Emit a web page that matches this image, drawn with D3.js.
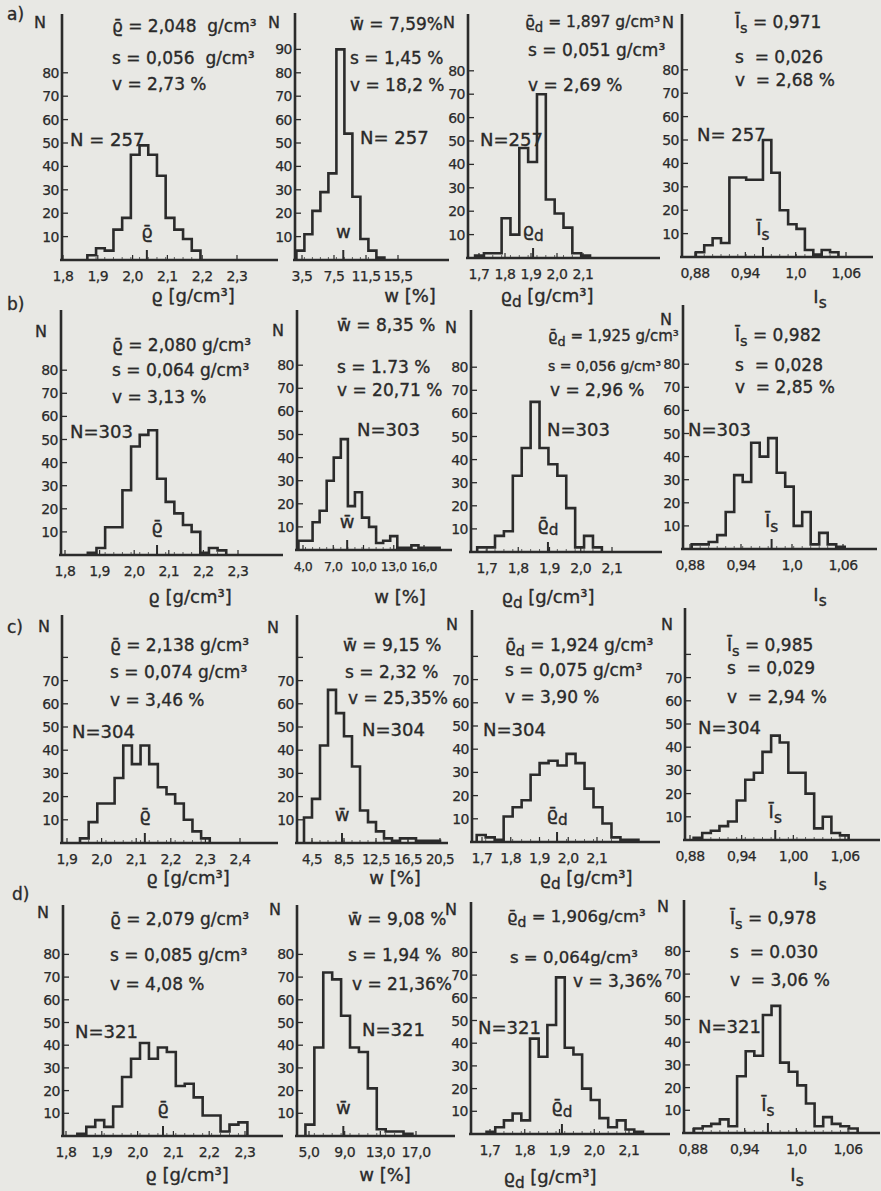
<!DOCTYPE html>
<html>
<head>
<meta charset="utf-8">
<script src="https://cdn.jsdelivr.net/npm/d3@7"></script>
<style>
  body { margin: 0; background: #e8e8e4; }
  svg text {
    font-family: "DejaVu Sans", sans-serif;
    fill: #2a2a2a;
    stroke: #2a2a2a;
    stroke-width: 0.35px;
    white-space: pre;
  }
  svg text.tick { letter-spacing: -0.5px; stroke-width: 0.25px; }
</style>
</head>
<body>
<svg id="chart" width="881" height="1191"></svg>
<script>
// ---- data (panels a1..d4, left to right, top to bottom) ----
const rowLabels = ["a)", "b)", "c)", "d)"];

const xTickValues = [
  [1.8, 1.9, 2.0, 2.1, 2.2, 2.3], [3.5, 7.5, 11.5, 15.5], [1.7, 1.8, 1.9, 2.0, 2.1], [0.88, 0.94, 1.0, 1.06],
  [1.8, 1.9, 2.0, 2.1, 2.2, 2.3], [4, 7, 10, 13, 16], [1.7, 1.8, 1.9, 2.0, 2.1], [0.88, 0.94, 1.0, 1.06],
  [1.9, 2.0, 2.1, 2.2, 2.3, 2.4], [4.5, 8.5, 12.5, 16.5, 20.5], [1.7, 1.8, 1.9, 2.0, 2.1], [0.88, 0.94, 1.0, 1.06],
  [1.8, 1.9, 2.0, 2.1, 2.2, 2.3], [5, 9, 13, 17], [1.7, 1.8, 1.9, 2.0, 2.1], [0.88, 0.94, 1.0, 1.06]
];
const xTickLabels = [
  ["1,8", "1,9", "2,0", "2,1", "2,2", "2,3"], ["3,5", "7,5", "11,5", "15,5"], ["1,7", "1,8", "1,9", "2,0", "2,1"], ["0,88", "0,94", "1,0", "1,06"],
  ["1,8", "1,9", "2,0", "2,1", "2,2", "2,3"], ["4,0", "7,0", "10,0", "13,0", "16,0"], ["1,7", "1,8", "1,9", "2,0", "2,1"], ["0,88", "0,94", "1,0", "1,06"],
  ["1,9", "2,0", "2,1", "2,2", "2,3", "2,4"], ["4,5", "8,5", "12,5", "16,5", "20,5"], ["1,7", "1,8", "1,9", "2,0", "2,1"], ["0,88", "0,94", "1,00", "1,06"],
  ["1,8", "1,9", "2,0", "2,1", "2,2", "2,3"], ["5,0", "9,0", "13,0", "17,0"], ["1,7", "1,8", "1,9", "2,0", "2,1"], ["0,88", "0,94", "1,0", "1,06"]
];

const yTicksFull = [10, 20, 30, 40, 50, 60, 70, 80];
const yTicksA2 = [10, 20, 30, 40, 50, 60, 70, 80, 90];
const yLabelMax = [80, 90, 80, 80, 80, 80, 80, 80, 70, 70, 70, 70, 80, 80, 80, 80];

const binStart = [1.87, 2.8, 1.685, 0.881, 1.866, 3.55, 1.6686, 0.882,
                  1.9376, 3.5, 1.6816, 0.8842, 1.8317, 4.6, 1.6901, 0.8812];
const binWidth = [0.025, 1.0, 0.034, 0.01, 0.025, 0.7, 0.0285, 0.01,
                  0.025, 1.0, 0.03125, 0.01, 0.025, 1.0, 0.025, 0.01];
const counts = [
  [2, 5, 4, 13, 18, 45, 49, 45, 36, 18, 13, 9, 4],
  [4, 11, 21, 29, 37, 90, 54, 27, 9, 4, 1],
  [1, 2, 2, 17, 10, 47, 41, 70, 25, 19, 13, 2, 1],
  [2, 5, 8, 6, 34, 34, 33, 33, 50, 36, 20, 14, 12, 3, 1, 3, 2],
  [1, 3, 12, 12, 28, 47, 52, 54, 33, 23, 18, 13, 10, 1, 3, 2],
  [4, 4, 12, 17, 30, 40, 48, 19, 25, 14, 10, 3, 4, 6, 1, 1, 2, 1, 1, 1],
  [2, 2, 7, 9, 33, 45, 65, 45, 38, 33, 19, 2, 7, 2],
  [2, 2, 3, 6, 16, 32, 29, 46, 40, 48, 33, 27, 10, 16, 2, 7, 2, 1],
  [2, 9, 17, 17, 28, 42, 34, 42, 34, 24, 21, 17, 10, 5, 2],
  [11, 19, 42, 66, 56, 46, 33, 14, 9, 5, 2, 1, 2, 2, 1, 1, 1],
  [3, 2, 1, 11, 15, 18, 29, 34, 35, 33, 38, 34, 23, 15, 8, 2, 1, 1],
  [1, 3, 4, 6, 8, 17, 26, 29, 38, 45, 42, 29, 29, 20, 5, 10, 3, 2],
  [1, 4, 7, 4, 13, 26, 34, 41, 34, 39, 37, 22, 23, 17, 9, 9, 2, 5, 6],
  [5, 39, 72, 69, 53, 39, 37, 21, 3, 2, 2, 1],
  [1, 3, 6, 9, 6, 42, 34, 48, 69, 38, 35, 20, 15, 7, 3, 6, 2, 1],
  [2, 3, 4, 6, 3, 25, 36, 34, 52, 56, 31, 27, 21, 13, 3, 7, 4, 3, 2]
];

// where the mean is marked on each x axis
const meanMark = [2.041, 8.66, 1.908, 0.961, 2.066, 8.38, 1.895, 0.976,
                  2.125, 8.25, 1.961, 0.979, 2.071, 8.85, 1.907, 0.967];

const RHO = "\u03F1", BAR = "\u0304";
const meanLabels = [RHO + BAR, "w", RHO + "_d", "\u012A_s",
                    RHO + BAR, "w" + BAR, RHO + BAR + "_d", "\u012A_s",
                    RHO + BAR, "w" + BAR, RHO + BAR + "_d", "\u012A_s",
                    RHO + BAR, "w" + BAR, RHO + BAR + "_d", "\u012A_s"];

const statTexts = [
  [RHO + BAR + " = 2,048  g/cm³", "s = 0,056  g/cm³", "v = 2,73 %"],
  ["w" + BAR + " = 7,59%", "s = 1,45 %", "v = 18,2 %"],
  [RHO + BAR + "_d = 1,897 g/cm³", "s = 0,051 g/cm³", "v = 2,69 %"],
  ["\u012A_s = 0,971", "s  = 0,026", "v  = 2,68 %"],
  [RHO + BAR + " = 2,080 g/cm³", "s = 0,064 g/cm³", "v = 3,13 %"],
  ["w" + BAR + " = 8,35 %", "s = 1.73 %", "v = 20,71 %"],
  [RHO + BAR + "_d = 1,925 g/cm³", "s = 0,056 g/cm³", "v = 2,96 %"],
  ["\u012A_s = 0,982", "s  = 0,028", "v  = 2,85 %"],
  [RHO + BAR + " = 2,138 g/cm³", "s = 0,074 g/cm³", "v = 3,46 %"],
  ["w" + BAR + " = 9,15 %", "s = 2,32 %", "v = 25,35%"],
  [RHO + BAR + "_d = 1,924 g/cm³", "s = 0,075 g/cm³", "v = 3,90 %"],
  ["\u012A_s = 0,985", "s  = 0,029", "v  = 2,94 %"],
  [RHO + BAR + " = 2,079 g/cm³", "s = 0,085 g/cm³", "v = 4,08 %"],
  ["w" + BAR + " = 9,08 %", "s = 1,94 %", "v = 21,36%"],
  [RHO + BAR + "_d = 1,906g/cm³", "s = 0,064g/cm³", "v = 3,36%"],
  ["\u012A_s = 0,978", "s  = 0.030", "v  = 3,06 %"]
];

const sampleSize = [257, 257, 257, 257, 303, 303, 303, 303, 304, 304, 304, 304, 321, 321, 321, 321];
const sampleSep = [" = ", "= ", "=", "= ", "=", "=", "=", "=", "=", "=", "=", "=", "=", "=", "=", "="];

const axisTitles = [RHO + " [g/cm³]", "w [%]", RHO + "_d [g/cm³]", "I_s"];

// ---- layout (pixels) ----
const rowLabelPos = [[7, 20], [7, 310], [7, 633], [12, 900]];
const originX = [62, 295, 468, 682, 61, 297, 471, 683, 62, 297, 472, 685, 63, 297, 471, 684];
const originY = [260, 260, 258, 257, 555, 550, 552, 549, 843, 843, 842, 840, 1136, 1136, 1134, 1133];
const axisTop = [14, 13, 14, 14, 310, 310, 310, 305, 615, 615, 610, 608, 905, 905, 902, 900];
const axisEnd = [278, 449, 660, 873, 283, 452, 662, 877, 278, 448, 660, 880, 283, 455, 670, 880];
const unitPx = [2.34, 2.34, 2.34, 2.34, 2.31, 2.31, 2.31, 2.31, 2.32, 2.32, 2.32, 2.32, 2.27, 2.27, 2.27, 2.27];
const tickPx = [[63, 237], [302, 398], [479, 583], [695, 846], [65, 238], [303, 424], [487, 612], [690, 843],
                [67, 240], [312, 440], [482, 597], [690, 845], [66, 245], [309, 416], [490, 629], [693, 848]];
const xTickSize = [14, 14, 14, 14, 14, 12.5, 14, 14, 14, 13.5, 14, 14, 14, 14, 14, 14];
const statX = [[112, 112, 112], [350, 350, 350], [525, 528, 528], [735, 735, 735],
               [112, 112, 112], [337, 337, 337], [548, 548, 550], [735, 735, 735],
               [110, 110, 110], [343, 345, 348], [505, 505, 505], [727, 727, 727],
               [110, 110, 110], [348, 348, 352], [507, 510, 573], [730, 730, 730]];
const statY = [[32, 64, 90], [30, 64, 91], [27, 56, 91], [28, 63, 86],
               [351, 376, 403], [331, 373, 396], [341, 371, 396], [341, 371, 393],
               [651, 678, 706], [651, 678, 704], [651, 676, 703], [651, 674, 703],
               [925, 961, 990], [925, 961, 990], [922, 963, 987], [924, 958, 986]];
// font size of each statistics line (some were squeezed by the letterer)
const statSize = [[17, 17, 17], [17, 17, 17], [15.5, 17, 17], [17, 17, 17],
                  [17, 17, 17], [17, 17, 17], [15, 14, 17], [17, 17, 17],
                  [17, 17, 17], [17, 17, 17], [17, 17, 17], [17, 17, 17],
                  [17, 17, 17], [17, 17, 17], [16.5, 16.5, 17], [17, 17, 17]];
const nPos = [[70, 146], [360, 144], [480, 146], [697, 141], [70, 438], [357, 436], [547, 436], [688, 436],
              [72, 738], [362, 736], [483, 736], [698, 734], [75, 1038], [362, 1036], [478, 1034], [698, 1033]];
const nAxisPos = [[40, 28], [274, 28], [449, 28], [668, 28], [41, 337], [278, 336], [451, 333], [666, 325],
                  [44, 632], [273, 633], [452, 630], [667, 630], [43, 918], [275, 915], [451, 915], [663, 912]];
const titlePos = [[193, 302], [410, 302], [547, 302], [820, 303], [190, 603], [400, 603], [548, 603], [820, 601],
                  [188, 884], [395, 884], [586, 884], [820, 885], [187, 1181], [385, 1181], [550, 1183], [797, 1181]];

const ink = "#2b2b2b";
const svg = d3.select("#chart");

svg.append("rect").attr("width", 881).attr("height", 1191).attr("fill", "#e8e8e4");

// text with "_x" meaning subscript x
function rich(sel, str) {
  const parts = str.split(/_(.)/);
  parts.forEach((p, j) => {
    if (!p) return;
    if (j % 2) {
      sel.append("tspan").attr("dy", 5).attr("font-size", "0.85em").text(p);
    } else {
      const t = sel.append("tspan").text(p);
      if (j > 0) t.attr("dy", -5);
    }
  });
  return sel;
}

rowLabels.forEach((r, i) => {
  svg.append("text").attr("x", rowLabelPos[i][0]).attr("y", rowLabelPos[i][1])
    .attr("font-size", 17).text(r);
});

counts.forEach((cnt, i) => {
  const g = svg.append("g");
  const tv = xTickValues[i];
  const x = d3.scaleLinear().domain([tv[0], tv[tv.length - 1]]).range(tickPx[i]);
  const y = d3.scaleLinear().domain([0, 100]).range([originY[i], originY[i] - 100 * unitPx[i]]);
  const ox = originX[i], oy = originY[i];

  // y axis
  g.append("line").attr("x1", ox).attr("x2", ox).attr("y1", axisTop[i]).attr("y2", oy + 1)
    .attr("stroke", ink).attr("stroke-width", 2.6);
  const yTicks = i === 1 ? yTicksA2 : yTicksFull;
  yTicks.forEach(v => {
    g.append("line").attr("x1", ox).attr("x2", ox + 6).attr("y1", y(v)).attr("y2", y(v))
      .attr("stroke", ink).attr("stroke-width", 1.3);
    if (v <= yLabelMax[i]) {
      g.append("text").attr("class", "tick").attr("x", ox - 3).attr("y", y(v) + 5)
        .attr("text-anchor", "end").attr("font-size", 14).text(v);
    }
  });
  g.append("text").attr("x", nAxisPos[i][0]).attr("y", nAxisPos[i][1]).attr("text-anchor", "middle")
    .attr("font-size", 16).text("N");

  // x axis
  g.append("line").attr("x1", ox - 2).attr("x2", axisEnd[i]).attr("y1", oy).attr("y2", oy)
    .attr("stroke", ink).attr("stroke-width", 2.4);
  const edges = d3.range(cnt.length + 1).map(k => binStart[i] + k * binWidth[i]);
  edges.forEach(e => {
    g.append("line").attr("x1", x(e)).attr("x2", x(e)).attr("y1", oy).attr("y2", oy - 3)
      .attr("stroke", ink).attr("stroke-width", 1).attr("opacity", 0.7);
  });
  tv.forEach((v, k) => {
    g.append("line").attr("x1", x(v)).attr("x2", x(v)).attr("y1", oy).attr("y2", oy - 5)
      .attr("stroke", ink).attr("stroke-width", 1.2);
    g.append("text").attr("class", "tick").attr("x", x(v)).attr("y", oy + 21)
      .attr("text-anchor", "middle").attr("font-size", xTickSize[i]).text(xTickLabels[i][k]);
  });

  // histogram outline
  const pts = [[edges[0], 0]];
  cnt.forEach((c, k) => { pts.push([edges[k], c], [edges[k + 1], c]); });
  pts.push([edges[cnt.length], 0]);
  g.append("path")
    .attr("d", d3.line().x(d => x(d[0])).y(d => y(d[1]))(pts))
    .attr("fill", "none").attr("stroke", ink).attr("stroke-width", 2.6)
    .attr("stroke-linejoin", "miter");

  // mean marker
  const mx = x(meanMark[i]);
  g.append("line").attr("x1", mx).attr("x2", mx).attr("y1", oy).attr("y2", oy - 10)
    .attr("stroke", ink).attr("stroke-width", 2);
  rich(g.append("text").attr("x", mx).attr("y", oy - 22).attr("text-anchor", "middle")
    .attr("font-size", 18), meanLabels[i]);

  // statistics
  statTexts[i].forEach((s, k) => {
    rich(g.append("text").attr("x", statX[i][k]).attr("y", statY[i][k])
      .attr("font-size", statSize[i][k]), s);
  });
  g.append("text").attr("x", nPos[i][0]).attr("y", nPos[i][1]).attr("font-size", 18)
    .text("N" + sampleSep[i] + sampleSize[i]);

  // axis title
  rich(g.append("text").attr("x", titlePos[i][0]).attr("y", titlePos[i][1])
    .attr("text-anchor", "middle").attr("font-size", 18), axisTitles[i % 4]);
});
</script>
</body>
</html>
